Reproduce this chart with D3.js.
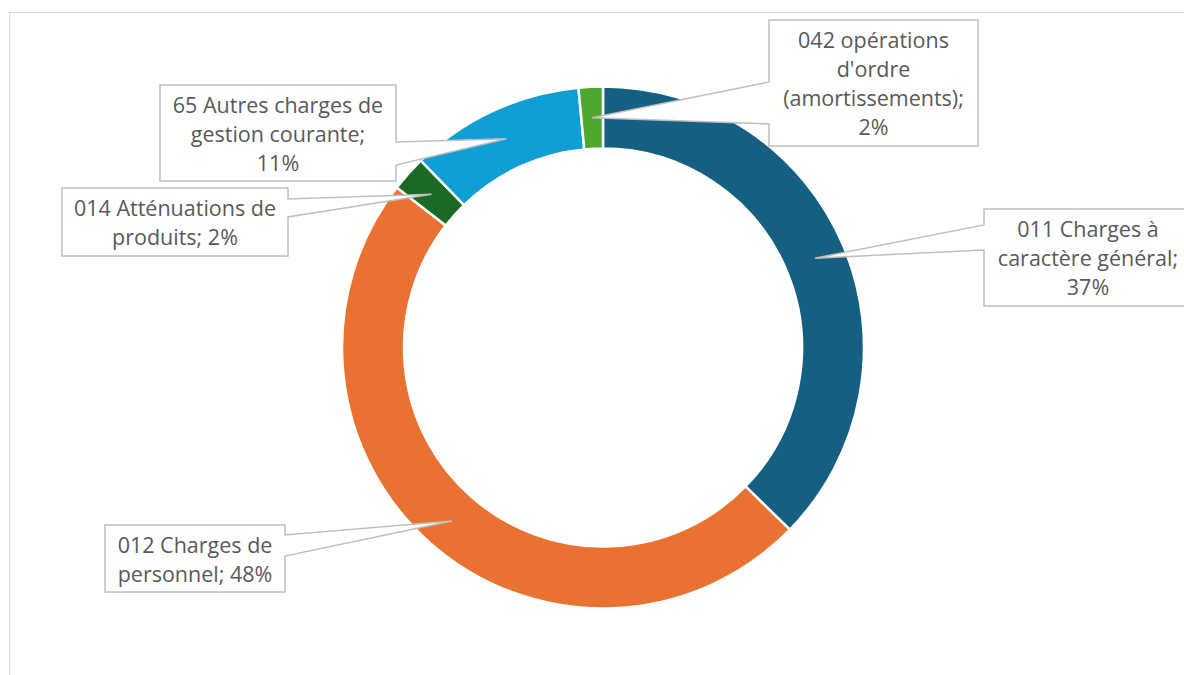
<!DOCTYPE html>
<html>
<head>
<meta charset="utf-8">
<script src="https://cdn.jsdelivr.net/npm/d3@7"></script>
<style>
  html, body { margin: 0; padding: 0; background: #ffffff; }
  svg { display: block; }
</style>
</head>
<body>
<svg id="chart" width="1184" height="675"></svg>
<script>
// ---- data ----
const categories = [
  "011 Charges à caractère général",
  "012 Charges de personnel",
  "014 Atténuations de produits",
  "65 Autres charges de gestion courante",
  "042 opérations d'ordre (amortissements)"
];
const values = [37.3, 48.2, 2.2, 10.8, 1.5];
const colors = ["#156082", "#E97132", "#196B24", "#0F9ED5", "#4EA72E"];
// label lines (text wrapping as in the reference)
const labelLines = [
  ["011 Charges à", "caractère général;", "{p}"],
  ["012 Charges de", "personnel; {p}"],
  ["014 Atténuations de", "produits; {p}"],
  ["65 Autres charges de", "gestion courante;", "{p}"],
  ["042 opérations", "d'ordre", "(amortissements);", "{p}"]
];

// ---- layout (positions/sizes) ----
const W = 1184, H = 675;
const cx = 603, cy = 347.5, rOuter = 261, rInner = 199;
const boxes = [
  { x: 984, y: 209, w: 234, h: 97, side: "left", a1: 225, a2: 250, tx: 1088 },
  { x: 105, y: 525, w: 180, h: 67, side: "right", a1: 535, a2: 556 },
  { x: 62, y: 188, w: 226, h: 68, side: "right", a1: 199, a2: 217 },
  { x: 160, y: 85, w: 236, h: 96, side: "right", a1: 142, a2: 165 },
  { x: 769, y: 20, w: 209, h: 126, side: "left", a1: 82, a2: 124 }
];
const lineH = 29;

const svg = d3.select("#chart");

// chart area border
svg.append("rect")
  .attr("x", 9.5).attr("y", 12.5)
  .attr("width", W).attr("height", H)
  .attr("fill", "none").attr("stroke", "#d9d9d9").attr("stroke-width", 1);

const total = d3.sum(values);
const pie = d3.pie().sort(null).value(d => d)(values);
const arc = d3.arc().innerRadius(rInner).outerRadius(rOuter);

const g = svg.append("g").attr("transform", `translate(${cx},${cy})`);
g.selectAll("path.slice")
  .data(pie)
  .join("path")
  .attr("class", "slice")
  .attr("d", arc)
  .attr("fill", (d, i) => colors[i])
  .attr("stroke", "#ffffff")
  .attr("stroke-width", 2.5)
  .attr("stroke-linejoin", "miter");

const fmt = v => Math.round(v / total * 100) + "%";

// callouts
const callG = svg.append("g");
pie.forEach((d, i) => {
  const b = boxes[i];
  const c = arc.centroid(d);
  const ax = cx + c[0], ay = cy + c[1];
  let p;
  if (b.side === "left") {
    p = `M${b.x},${b.y} H${b.x + b.w} V${b.y + b.h} H${b.x} V${b.a2} L${ax},${ay} L${b.x},${b.a1} Z`;
  } else {
    const rx = b.x + b.w;
    p = `M${b.x},${b.y} H${rx} V${b.a1} L${ax},${ay} L${rx},${b.a2} V${b.y + b.h} H${b.x} Z`;
  }
  callG.append("path")
    .attr("d", p)
    .attr("fill", "#ffffff")
    .attr("stroke", "#bfbfbf")
    .attr("stroke-width", 1.5)
    .attr("stroke-linejoin", "miter");

  const lines = labelLines[i].map(s => s.replace("{p}", fmt(values[i])));
  const tx = b.tx !== undefined ? b.tx : b.x + b.w / 2;
  const ccy = b.y + b.h / 2;
  lines.forEach((s, k) => {
    callG.append("text")
      .attr("x", tx)
      .attr("y", ccy + (k - (lines.length - 1) / 2) * lineH)
      .attr("text-anchor", "middle")
      .attr("dominant-baseline", "central")
      .attr("font-family", "'Open Sans', 'Noto Sans', sans-serif")
      .attr("font-size", 21.5)
      .attr("fill", "#595959")
      .text(s);
  });
});
</script>
</body>
</html>
